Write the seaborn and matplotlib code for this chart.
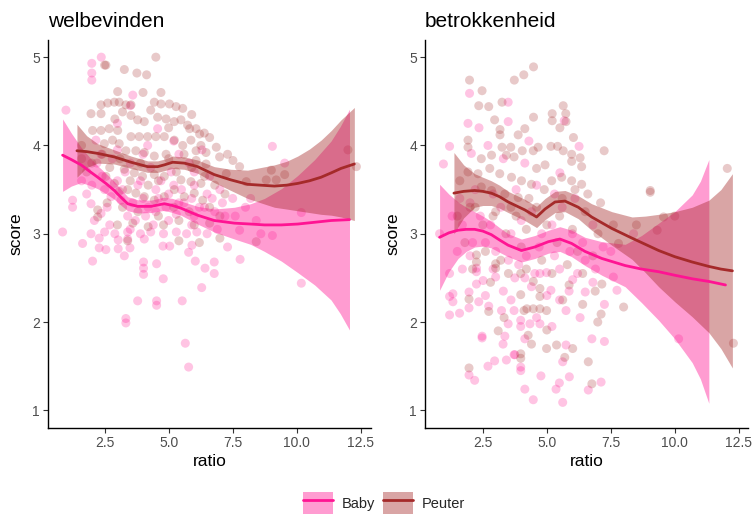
import numpy as np
import pandas as pd
import matplotlib
matplotlib.use("Agg")
import matplotlib.pyplot as plt
from matplotlib.patches import Rectangle
from matplotlib.lines import Line2D
from matplotlib.legend_handler import HandlerTuple
import seaborn as sns

# ---------------- data ----------------
groups = ["Baby", "Peuter"]
panel_titles = ["welbevinden", "betrokkenheid"]
x_ticks = [2.5, 5.0, 7.5, 10.0, 12.5]
x_tick_labels = ["2.5", "5.0", "7.5", "10.0", "12.5"]
y_ticks = [1, 2, 3, 4, 5]

# welbevinden - Baby points
wel_baby_x = [2.0, 2.0, 2.0, 2.37, 0.99, 3.6, 3.5, 2.16, 2.36, 4.57, 4.18, 3.0, 9.05, 9.53, 6.3, 5.2,
              1.25, 1.25, 0.86, 1.97, 2.36, 2.75, 3.14, 3.4, 3.7, 4.1, 4.5, 4.9, 5.3, 5.6, 6.0, 6.4, 6.8, 7.2,
              1.6, 2.0, 2.5, 3.0, 3.3, 3.8, 4.0, 4.5, 5.0, 5.5, 6.0, 6.5, 7.0, 7.5, 8.0,
              2.2, 2.8, 3.5, 4.3, 5.1, 5.8, 6.6, 10.18, 8.42, 9.05, 7.77,
              1.97, 2.5, 2.9, 3.4, 3.9, 4.3, 4.8, 5.3, 5.7, 6.1, 6.5,
              1.64, 2.03, 2.29, 2.29, 2.55, 3.03, 3.03, 3.27, 3.49, 3.40, 4.02, 4.02, 4.02, 4.05, 4.53,
              4.79, 4.78, 5.04, 5.78, 5.91, 6.04, 6.42, 6.78, 6.78, 7.3, 7.79,
              3.79, 3.33, 3.33, 4.53, 4.53, 5.53, 5.65, 5.78, 6.29, 10.18,
              1.8, 2.4, 2.6, 3.2, 3.6, 3.9, 4.2, 4.6, 4.7, 5.2, 5.4, 5.9, 6.2, 6.7, 7.1, 7.6,
              2.1, 2.7, 3.5, 4.4, 5.0, 5.9, 6.9, 8.2, 8.6, 3.0, 4.0, 5.4, 6.0]
wel_baby_y = [4.93, 4.82, 4.74, 5.0, 4.40, 4.57, 4.45, 4.06, 3.90, 4.19, 4.0, 4.25, 3.99, 3.8, 3.95, 4.05,
              3.38, 3.30, 3.02, 3.34, 3.23, 3.42, 3.38, 3.2, 3.15, 3.2, 3.25, 3.3, 3.22, 3.35, 3.2, 3.3, 3.25, 3.2,
              3.6, 3.55, 3.5, 3.6, 3.7, 3.55, 3.4, 3.5, 3.45, 3.5, 3.55, 3.45, 3.5, 3.4, 3.3,
              3.8, 3.85, 3.8, 3.75, 3.7, 3.8, 3.65, 3.24, 3.15, 2.98, 3.04,
              3.0, 3.02, 3.0, 3.02, 3.0, 3.02, 3.0, 3.02, 3.0, 3.02, 3.0,
              2.89, 2.69, 2.95, 2.84, 2.82, 2.93, 2.83, 2.75, 2.84, 2.94, 2.68, 2.61, 2.54, 2.94, 2.66,
              2.49, 2.86, 2.86, 2.79, 2.87, 2.69, 2.61, 2.68, 2.55, 2.85, 2.71,
              2.24, 2.04, 1.99, 2.24, 2.19, 2.24, 1.76, 1.49, 2.39, 2.44,
              3.45, 3.65, 3.3, 3.5, 3.35, 3.6, 3.3, 3.4, 3.6, 3.55, 3.35, 3.4, 3.3, 3.4, 3.35, 3.2,
              3.15, 3.1, 3.05, 3.1, 3.15, 3.1, 3.05, 3.4, 3.0, 3.95, 3.9, 3.9, 3.7]

# welbevinden - Peuter points
wel_peuter_x = [2.55, 2.5, 3.27, 3.76, 4.14, 4.5, 3.01, 2.36, 2.62, 2.88, 3.07, 3.33, 3.53, 4.44, 4.7, 5.03,
                5.29, 5.55, 1.97, 2.36, 3.2, 3.53, 3.79, 4.05, 4.57, 4.9, 5.22, 5.48, 5.74, 6.07, 6.39,
                2.03, 2.36, 2.68, 3.01, 3.53, 3.85, 4.18, 4.5, 4.83, 5.22, 5.55, 5.87, 6.26, 2.49, 2.81,
                3.07, 3.33, 3.72, 4.05, 4.44, 4.9, 6.07, 6.46, 6.07, 6.46, 3.27, 3.66, 3.98, 4.44, 4.83,
                5.48, 5.87, 6.26, 2.55, 2.88, 3.07, 3.4, 3.72, 4.05, 4.44, 4.83, 5.22, 5.61, 6.0, 6.33,
                2.23, 2.23, 3.0, 3.6, 4.2, 4.8, 5.4, 6.0, 6.6, 7.0, 7.51, 6.99, 6.86, 6.6, 6.21, 5.82,
                7.77, 8.03, 7.25, 8.81, 9.2, 9.53, 9.01, 12.0, 12.33, 8.42, 3.4, 5.4, 6.2, 7.0, 1.6, 1.8, 1.6,
                2.0, 2.4, 2.7, 3.1, 3.5, 3.9, 4.2, 4.6, 5.0, 5.3, 5.6, 5.9, 6.4, 6.8, 7.2,
                2.6, 3.2, 3.8, 4.6, 5.2, 5.8, 6.6, 7.3, 2.9, 4.3, 5.0, 5.9, 4.0, 4.7]
wel_peuter_y = [4.91, 4.91, 4.86, 4.82, 4.80, 5.0, 4.61, 4.46, 4.48, 4.49, 4.49, 4.46, 4.46, 4.49, 4.47, 4.47,
                4.44, 4.42, 4.36, 4.36, 4.38, 4.34, 4.29, 4.27, 4.32, 4.30, 4.27, 4.29, 4.23, 4.19, 4.14,
                4.17, 4.17, 4.19, 4.17, 4.10, 4.10, 4.10, 4.10, 4.10, 4.06, 4.0, 4.06, 4.0, 4.02, 4.06,
                4.02, 3.94, 3.94, 3.92, 3.88, 3.90, 3.94, 3.92, 3.83, 3.79, 3.73, 3.69, 3.65, 3.67, 3.65,
                3.61, 3.59, 3.57, 3.65, 3.57, 3.48, 3.5, 3.46, 3.42, 3.38, 3.42, 3.50, 3.42, 3.46, 3.38,
                3.27, 3.19, 3.1, 3.12, 3.08, 3.1, 3.15, 3.1, 3.12, 3.2, 3.83, 3.87, 3.98, 4.09, 4.13, 4.19,
                3.76, 3.59, 3.68, 3.61, 3.61, 3.67, 3.72, 3.95, 3.76, 2.91, 2.92, 2.92, 2.9, 2.95, 3.85, 3.7, 4.0,
                3.8, 3.9, 3.75, 3.85, 3.6, 3.8, 3.55, 3.6, 3.85, 3.7, 3.9, 3.75, 3.65, 3.55, 3.45,
                3.35, 3.3, 3.25, 3.2, 3.3, 3.25, 3.3, 3.9, 4.3, 4.4, 4.2, 4.35, 4.6, 4.6]

# betrokkenheid - Baby points
bet_baby_x = [1.98, 3.49, 3.49, 1.92, 2.35, 1.2, 0.96, 2.05, 4.14, 5.51, 6.26, 5.68, 4.3, 3.3, 2.7,
              0.81, 1.3, 1.7, 2.0, 2.4, 2.8, 3.2, 3.6, 4.0, 4.4, 4.8, 5.2, 5.6, 6.0, 6.4, 6.8, 7.2,
              1.5, 2.0, 2.6, 3.0, 3.5, 4.2, 4.7, 5.3, 5.9, 6.5, 8.39, 7.74, 7.6, 10.15,
              1.2, 1.33, 1.2, 1.33, 1.2, 1.59, 1.96, 1.96, 2.25, 2.51, 2.25, 2.25, 2.34, 2.73, 2.47, 2.47,
              3.0, 3.23, 3.29, 3.49, 3.36, 3.75, 3.72, 3.98, 3.98, 3.75, 3.98, 3.98, 4.14, 4.14, 4.34,
              4.73, 4.53, 4.73, 4.99, 5.16, 5.5, 5.75, 5.87, 6.01, 5.75, 5.62, 5.49, 5.88, 5.36, 5.62,
              4.77, 4.47, 4.14, 2.7, 2.96, 3.42, 3.72, 1.96, 2.18, 6.5, 7.25, 6.76, 7.25, 6.62, 7.12,
              1.6, 2.2, 2.9, 3.8, 4.6, 5.3, 6.1, 2.1, 2.9, 3.3, 3.9, 4.4, 5.0, 5.5, 6.2, 6.8,
              1.7, 2.6, 3.6, 4.6, 5.2, 6.3, 6.9, 7.5]
bet_baby_y = [4.59, 4.49, 4.27, 4.25, 4.2, 3.99, 3.79, 3.91, 3.80, 3.69, 3.99, 4.28, 4.05, 3.85, 4.0,
              3.0, 3.2, 3.1, 3.35, 3.2, 3.1, 3.3, 3.0, 3.15, 3.25, 3.0, 3.1, 3.3, 3.0, 2.9, 3.1, 2.85,
              2.8, 2.75, 2.9, 2.8, 2.7, 2.75, 2.85, 2.75, 2.8, 2.7, 3.0, 2.36, 2.51, 1.81,
              2.55, 2.32, 2.29, 2.23, 2.08, 2.1, 2.34, 2.16, 2.43, 2.47, 2.61, 2.57, 2.23, 2.18, 1.82, 1.84,
              2.51, 2.13, 1.75, 1.98, 1.84, 2.5, 2.13, 2.02, 1.95, 1.63, 1.49, 1.45, 2.5, 1.81, 1.98,
              1.98, 2.55, 2.55, 2.56, 2.36, 2.25, 2.13, 2.35, 2.48, 1.74, 1.55, 1.31, 1.38, 1.24, 1.09,
              1.39, 1.12, 1.24, 1.5, 1.56, 1.57, 1.63, 1.40, 1.34, 2.34, 2.2, 1.81, 1.78, 1.23, 1.32,
              3.4, 3.5, 3.45, 3.5, 3.55, 3.45, 3.4, 2.9, 2.6, 2.35, 2.65, 2.4, 2.3, 2.6, 2.55, 2.45,
              2.6, 2.3, 2.25, 2.05, 1.95, 2.05, 2.6, 2.8]

# betrokkenheid - Peuter points
bet_peuter_x = [1.98, 2.47, 3.73, 4.1, 4.48, 2.34, 2.73, 3.25, 2.96, 3.17, 3.17, 4.48, 4.14, 3.88, 5.21,
                5.21, 5.64, 5.74, 5.75, 5.51, 6.04, 3.25, 3.59, 4.04, 4.47, 4.66, 5.16, 5.42, 5.64, 5.97,
                6.3, 1.92, 1.92, 2.44, 2.84, 3.42, 3.72, 4.6, 4.93, 5.97, 6.36, 1.92, 2.31, 2.77, 3.16,
                3.62, 4.01, 4.4, 2.44, 2.84, 3.36, 3.88, 5.19, 5.58, 5.97, 6.36, 7.24,
                9.04, 9.04, 9.56, 9.31, 12.05, 7.8, 8.0, 12.29,
                1.5, 2.0, 2.5, 3.0, 3.4, 3.8, 4.2, 4.6, 5.0, 5.5, 6.0, 6.5, 7.0, 1.8, 2.6, 3.2, 4.0,
                4.8, 5.4, 6.2, 6.8,
                2.25, 2.25, 1.96, 2.73, 3.0, 3.0, 3.33, 3.98, 3.98, 3.98, 3.98, 4.11, 4.22, 4.47, 4.73,
                4.27, 4.73, 4.73, 4.47, 4.99, 5.0, 5.38, 5.62, 5.87, 6.01, 6.89, 7.15, 7.12, 6.99, 6.62,
                6.76, 1.96, 4.99,
                1.6, 2.2, 2.9, 3.6, 4.3, 4.9, 5.6, 6.1, 6.6, 7.1, 7.6, 2.1, 2.8, 3.5, 4.2, 5.2, 5.8, 6.4,
                3.1, 4.4, 5.7, 6.4, 8.5, 10.0]
bet_peuter_y = [4.74, 4.62, 4.74, 4.80, 4.89, 4.45, 4.44, 4.49, 4.29, 4.18, 4.12, 4.32, 4.19, 4.12, 4.36,
                4.28, 4.45, 4.36, 4.27, 4.2, 4.09, 3.98, 3.98, 3.94, 3.94, 3.98, 3.99, 3.99, 3.94, 3.90,
                3.86, 4.06, 3.98, 3.85, 3.89, 3.89, 3.87, 3.74, 3.78, 3.82, 3.76, 3.70, 3.68, 3.74, 3.68,
                3.64, 3.6, 3.56, 3.53, 3.49, 3.45, 3.41, 3.6, 3.64, 3.6, 3.56, 3.94,
                3.49, 3.47, 3.19, 3.04, 3.74, 2.89, 2.17, 1.76,
                3.2, 3.3, 3.1, 3.25, 3.0, 3.2, 3.05, 3.3, 3.1, 3.2, 3.05, 3.25, 3.0, 2.9, 2.8, 2.7, 2.85,
                2.7, 2.9, 2.8, 2.75,
                2.76, 2.68, 2.26, 2.12, 2.66, 2.61, 2.05, 2.31, 1.64, 1.59, 2.55, 2.13, 2.15, 2.15, 2.15,
                1.85, 2.38, 2.29, 2.46, 2.13, 1.91, 1.74, 2.25, 2.42, 1.70, 2.35, 2.43, 2.09, 2.0, 1.55,
                1.3, 1.48, 1.70,
                3.6, 3.3, 3.2, 3.3, 3.4, 3.5, 3.4, 3.5, 3.45, 3.35, 3.1, 2.6, 2.45, 2.55, 2.6, 2.55, 2.65, 2.55,
                1.9, 1.75, 1.6, 2.2, 3.1, 3.2]

# smoothed trends (fit) and half-width of the confidence band
wel_baby_fit_x = [0.86, 1.2, 1.58, 1.9, 2.23, 2.55, 2.88, 3.15, 3.4, 3.79, 4.31, 4.83, 5.15, 5.48, 6.13,
                  6.78, 7.57, 8.2, 8.74, 9.4, 10.04, 10.7, 11.34, 11.7, 12.06]
wel_baby_fit_y = [3.89, 3.84, 3.78, 3.71, 3.64, 3.57, 3.49, 3.41, 3.34, 3.31, 3.31, 3.34, 3.32, 3.29, 3.21,
                  3.15, 3.12, 3.11, 3.10, 3.10, 3.11, 3.13, 3.15, 3.155, 3.16]
wel_baby_half = [0.41, 0.30, 0.20, 0.16, 0.13, 0.115, 0.10, 0.09, 0.08, 0.075, 0.07, 0.075, 0.08, 0.08, 0.10,
                 0.13, 0.18, 0.23, 0.30, 0.41, 0.55, 0.71, 0.90, 1.06, 1.25]

wel_peuter_fit_x = [1.42, 1.8, 2.23, 2.88, 3.53, 4.18, 4.57, 4.83, 5.16, 5.61, 6.13, 6.78, 7.43, 8.08, 8.6,
                    9.13, 9.6, 10.04, 10.5, 10.95, 11.35, 11.73, 12.25]
wel_peuter_fit_y = [3.94, 3.93, 3.91, 3.87, 3.81, 3.76, 3.76, 3.78, 3.81, 3.80, 3.76, 3.67, 3.61, 3.56, 3.55,
                    3.54, 3.55, 3.57, 3.60, 3.64, 3.69, 3.74, 3.79]
wel_peuter_half = [0.30, 0.18, 0.11, 0.08, 0.07, 0.065, 0.065, 0.065, 0.07, 0.07, 0.075, 0.09, 0.12, 0.16, 0.20,
                   0.24, 0.27, 0.31, 0.36, 0.42, 0.48, 0.55, 0.64]

bet_baby_fit_x = [0.81, 1.17, 1.53, 1.85, 2.18, 2.5, 2.83, 3.15, 3.49, 4.01, 4.53, 5.06, 5.51, 5.97, 6.49,
                  7.15, 8.06, 8.7, 9.37, 10.0, 10.68, 11.0, 11.33, 11.98]
bet_baby_fit_y = [2.96, 3.01, 3.04, 3.05, 3.05, 3.03, 2.99, 2.93, 2.87, 2.81, 2.85, 2.91, 2.94, 2.89, 2.80,
                  2.72, 2.64, 2.60, 2.57, 2.53, 2.49, 2.475, 2.46, 2.42]
bet_baby_half = [0.60, 0.44, 0.32, 0.25, 0.20, 0.17, 0.15, 0.14, 0.13, 0.13, 0.13, 0.13, 0.14, 0.15, 0.16,
                 0.19, 0.24, 0.38, 0.55, 0.72, 0.95, 1.12, 1.38, 1.38]
bet_baby_band_end = 11.33

bet_peuter_fit_x = [1.37, 1.75, 2.18, 2.5, 2.83, 3.15, 3.49, 4.14, 4.6, 4.93, 5.32, 5.71, 6.23, 6.75, 7.54,
                    8.33, 8.85, 9.37, 10.0, 10.68, 11.33, 11.8, 12.25]
bet_peuter_fit_y = [3.46, 3.48, 3.49, 3.48, 3.46, 3.42, 3.36, 3.27, 3.19, 3.28, 3.36, 3.37, 3.30, 3.19, 3.06,
                    2.95, 2.88, 2.81, 2.74, 2.68, 2.63, 2.60, 2.58]
bet_peuter_half = [0.46, 0.30, 0.19, 0.16, 0.14, 0.13, 0.12, 0.12, 0.12, 0.12, 0.12, 0.12, 0.13, 0.15, 0.19,
                   0.24, 0.32, 0.41, 0.51, 0.62, 0.75, 0.90, 1.10]

# ---------------- styling ----------------
sns.set_style("white")
plt.rcParams["font.family"] = ["Liberation Sans", "DejaVu Sans"]

line_colors = {"Baby": "#FF1493", "Peuter": "#A52A2A"}
band_alpha = 0.42
point_alpha = 0.25
tick_color = "#4D4D4D"

W, H = 755, 517
fig = plt.figure(figsize=(W / 100, H / 100), dpi=100)
ax_bottom = 1 - 428 / H
ax_height = (428 - 39.5) / H
ax1 = fig.add_axes([48 / W, ax_bottom, 323 / W, ax_height])
ax2 = fig.add_axes([425 / W, ax_bottom, 323 / W, ax_height])

panels = [
    (ax1, panel_titles[0], (wel_baby_x, wel_baby_y), (wel_peuter_x, wel_peuter_y),
     (wel_baby_fit_x, wel_baby_fit_y, wel_baby_half, None),
     (wel_peuter_fit_x, wel_peuter_fit_y, wel_peuter_half, None), (0.29, 12.9)),
    (ax2, panel_titles[1], (bet_baby_x, bet_baby_y), (bet_peuter_x, bet_peuter_y),
     (bet_baby_fit_x, bet_baby_fit_y, bet_baby_half, bet_baby_band_end),
     (bet_peuter_fit_x, bet_peuter_fit_y, bet_peuter_half, None), (0.24, 12.86)),
]

for ax, title, baby_pts, peuter_pts, baby_fit, peuter_fit, xlim in panels:
    df = pd.concat([
        pd.DataFrame({"ratio": baby_pts[0], "score": baby_pts[1], "groep": "Baby"}),
        pd.DataFrame({"ratio": peuter_pts[0], "score": peuter_pts[1], "groep": "Peuter"}),
    ], ignore_index=True)
    sns.scatterplot(data=df, x="ratio", y="score", hue="groep", palette=line_colors,
                    alpha=point_alpha, s=42, linewidth=0, legend=False, ax=ax, zorder=2)
    for grp, (fx, fy, fh, band_end) in zip(groups, [baby_fit, peuter_fit]):
        fx = np.asarray(fx); fy = np.asarray(fy); fh = np.asarray(fh)
        where = None if band_end is None else fx <= band_end + 1e-9
        ax.fill_between(fx, fy - fh, fy + fh, where=where, color=line_colors[grp],
                        alpha=band_alpha, linewidth=0, zorder=3)
        sns.lineplot(x=fx, y=fy, color=line_colors[grp], linewidth=2.0, sort=False,
                     estimator=None, ax=ax, zorder=4)
    ax.set_xlim(*xlim)
    ax.set_ylim(0.8, 5.2)
    ax.set_xticks(x_ticks)
    ax.set_xticklabels(x_tick_labels)
    ax.set_yticks(y_ticks)
    ax.tick_params(axis="both", which="major", length=3.5, width=0.8, color="#333333",
                   labelcolor=tick_color, labelsize=10, pad=2.2, left=True, bottom=True)
    for side in ["top", "right"]:
        ax.spines[side].set_visible(False)
    for side in ["left", "bottom"]:
        ax.spines[side].set_color("black")
        ax.spines[side].set_linewidth(1.0)
    ax.set_xlabel("ratio", fontsize=12.5, color="black", labelpad=3)
    ax.set_ylabel("score", fontsize=12.5, color="black", labelpad=6)
    ax.set_title(title, loc="left", fontsize=15, color="black", pad=8.8)
    ax.grid(False)

# legend: band patch with the trend line drawn over it
handles = []
for grp in groups:
    patch = Rectangle((0, 0), 1, 1, facecolor=line_colors[grp], alpha=band_alpha, linewidth=0)
    line = Line2D([0], [0], color=line_colors[grp], linewidth=2.0)
    handles.append((patch, line))
fig.legend(handles, groups, handler_map={tuple: HandlerTuple(ndivide=1, pad=0)},
           loc="center", bbox_to_anchor=(384 / W, 1 - 503 / H), ncol=2, frameon=False,
           fontsize=10.5, handlelength=2.0, handleheight=2.0, handletextpad=0.6,
           columnspacing=0.6, borderpad=0)

fig.savefig("out.png", dpi=100)
